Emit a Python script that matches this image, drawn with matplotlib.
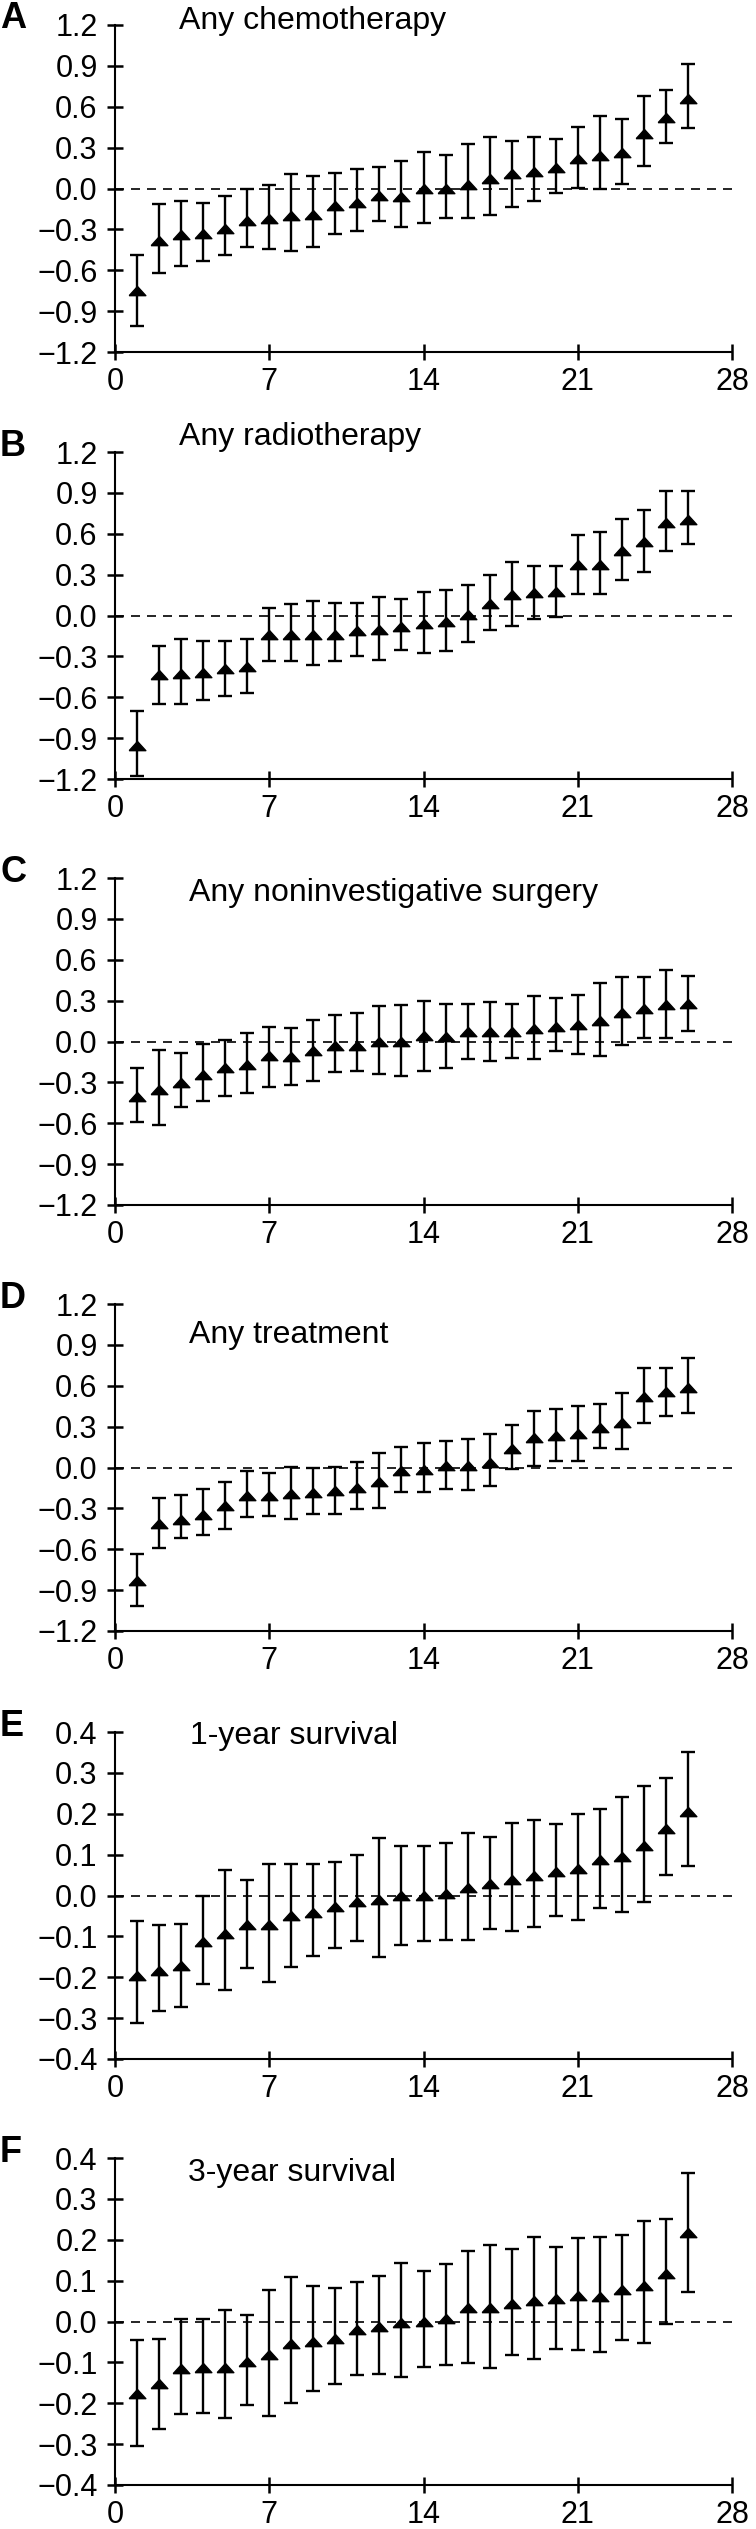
import numpy as np
import matplotlib
matplotlib.use("Agg")
import matplotlib.pyplot as plt
from matplotlib.ticker import FuncFormatter

plt.rcParams['font.family'] = ['Liberation Sans', 'DejaVu Sans']

# rank of each unit (x axis)
rank = np.arange(1, 27)

# A - any chemotherapy
chemo_est = [-0.754, -0.385, -0.343, -0.331, -0.294, -0.238, -0.225, -0.201, -0.196, -0.127,
             -0.110, -0.056, -0.061, -0.002, 0.000, 0.029, 0.069, 0.103, 0.122, 0.152,
             0.213, 0.240, 0.257, 0.399, 0.519, 0.656]
chemo_hi = [-0.485, -0.115, -0.093, -0.105, -0.056, -0.005, 0.029, 0.103, 0.093, 0.113,
            0.140, 0.157, 0.203, 0.267, 0.245, 0.323, 0.377, 0.350, 0.377, 0.365,
            0.453, 0.531, 0.509, 0.678, 0.725, 0.914]
chemo_lo = [-1.009, -0.617, -0.568, -0.534, -0.485, -0.431, -0.443, -0.460, -0.431, -0.331,
            -0.311, -0.238, -0.279, -0.252, -0.213, -0.213, -0.196, -0.135, -0.093, -0.032,
            0.002, -0.005, 0.034, 0.167, 0.336, 0.441]

# B - any radiotherapy
radio_est = [-0.960, -0.439, -0.427, -0.420, -0.390, -0.378, -0.142, -0.145, -0.145, -0.145,
             -0.115, -0.103, -0.083, -0.064, -0.049, 0.002, 0.081, 0.150, 0.162, 0.169,
             0.368, 0.368, 0.476, 0.542, 0.682, 0.699]
radio_hi = [-0.704, -0.223, -0.174, -0.184, -0.184, -0.169, 0.052, 0.086, 0.106, 0.093,
            0.093, 0.137, 0.118, 0.172, 0.187, 0.226, 0.294, 0.393, 0.366, 0.366,
            0.591, 0.616, 0.707, 0.773, 0.915, 0.915]
radio_lo = [-1.180, -0.653, -0.653, -0.623, -0.589, -0.572, -0.336, -0.336, -0.366, -0.336,
            -0.299, -0.326, -0.255, -0.272, -0.260, -0.191, -0.103, -0.076, -0.027, -0.012,
            0.160, 0.160, 0.260, 0.317, 0.476, 0.525]

# C - any noninvestigative surgery
surg_est = [-0.404, -0.355, -0.301, -0.245, -0.196, -0.171, -0.110, -0.115, -0.073, -0.032,
            -0.032, 0.000, -0.002, 0.037, 0.032, 0.073, 0.071, 0.069, 0.091, 0.105,
            0.122, 0.147, 0.208, 0.238, 0.265, 0.272]
surg_hi = [-0.196, -0.061, -0.086, -0.022, 0.012, 0.064, 0.103, 0.100, 0.159, 0.198,
           0.208, 0.257, 0.265, 0.299, 0.272, 0.274, 0.289, 0.277, 0.331, 0.316,
           0.340, 0.429, 0.475, 0.475, 0.527, 0.482]
surg_lo = [-0.588, -0.615, -0.482, -0.436, -0.397, -0.380, -0.333, -0.318, -0.287, -0.225,
           -0.218, -0.235, -0.250, -0.220, -0.198, -0.130, -0.142, -0.120, -0.130, -0.073,
           -0.091, -0.108, -0.029, 0.027, 0.027, 0.078]

# D - any treatment
treat_est = [-0.833, -0.418, -0.386, -0.345, -0.283, -0.210, -0.210, -0.198, -0.186, -0.171,
             -0.149, -0.108, -0.027, -0.015, 0.010, 0.010, 0.034, 0.137, 0.213, 0.230,
             0.249, 0.291, 0.327, 0.516, 0.555, 0.584]
treat_hi = [-0.638, -0.222, -0.200, -0.156, -0.105, -0.029, -0.037, 0.007, -0.002, 0.007,
            0.042, 0.105, 0.154, 0.183, 0.193, 0.210, 0.247, 0.313, 0.413, 0.433,
            0.455, 0.469, 0.547, 0.731, 0.731, 0.804]
treat_lo = [-1.019, -0.589, -0.518, -0.499, -0.455, -0.364, -0.354, -0.376, -0.340, -0.340,
            -0.308, -0.298, -0.183, -0.183, -0.156, -0.166, -0.134, -0.010, 0.010, 0.049,
            0.049, 0.142, 0.139, 0.323, 0.376, 0.401]

# E - 1-year survival
surv1_est = [-0.196, -0.184, -0.173, -0.113, -0.094, -0.073, -0.073, -0.051, -0.042, -0.027,
             -0.015, -0.010, -0.002, 0.000, 0.004, 0.019, 0.029, 0.038, 0.047, 0.057,
             0.065, 0.087, 0.094, 0.121, 0.163, 0.204]
surv1_hi = [-0.063, -0.073, -0.069, -0.002, 0.063, 0.037, 0.078, 0.076, 0.076, 0.083,
            0.100, 0.140, 0.122, 0.122, 0.128, 0.154, 0.144, 0.178, 0.185, 0.174,
            0.200, 0.211, 0.241, 0.267, 0.288, 0.350]
surv1_lo = [-0.313, -0.283, -0.272, -0.216, -0.230, -0.177, -0.212, -0.174, -0.148, -0.129,
            -0.112, -0.151, -0.122, -0.112, -0.108, -0.108, -0.082, -0.086, -0.078, -0.051,
            -0.060, -0.030, -0.041, -0.015, 0.049, 0.072]

# F - 3-year survival
surv3_est = [-0.178, -0.154, -0.117, -0.113, -0.113, -0.099, -0.082, -0.056, -0.050, -0.042,
             -0.020, -0.014, -0.003, -0.001, 0.007, 0.033, 0.033, 0.042, 0.051, 0.054,
             0.062, 0.059, 0.078, 0.088, 0.117, 0.217]
surv3_hi = [-0.046, -0.042, 0.007, 0.007, 0.029, 0.017, 0.077, 0.109, 0.086, 0.081,
            0.097, 0.112, 0.142, 0.123, 0.141, 0.172, 0.188, 0.178, 0.206, 0.182,
            0.204, 0.207, 0.211, 0.247, 0.251, 0.363]
surv3_lo = [-0.305, -0.264, -0.227, -0.223, -0.235, -0.205, -0.231, -0.200, -0.170, -0.152,
            -0.131, -0.128, -0.136, -0.111, -0.107, -0.101, -0.113, -0.081, -0.091, -0.067,
            -0.070, -0.074, -0.045, -0.052, -0.005, 0.072]

letters = ['A', 'B', 'C', 'D', 'E', 'F']
titles = ['Any chemotherapy', 'Any radiotherapy', 'Any noninvestigative surgery',
          'Any treatment', '1-year survival', '3-year survival']
x_ticks = [0, 7, 14, 21, 28]
treat_ticks = [-1.2, -0.9, -0.6, -0.3, 0.0, 0.3, 0.6, 0.9, 1.2]
surv_ticks = [-0.4, -0.3, -0.2, -0.1, 0.0, 0.1, 0.2, 0.3, 0.4]

panels = [
    (chemo_est, chemo_lo, chemo_hi, treat_ticks, (2.9, 1.23)),
    (radio_est, radio_lo, radio_hi, treat_ticks, (2.9, 1.31)),
    (surg_est, surg_lo, surg_hi, treat_ticks, (3.35, 1.09)),
    (treat_est, treat_lo, treat_hi, treat_ticks, (3.35, 0.97)),
    (surv1_est, surv1_lo, surv1_hi, surv_ticks, (3.4, 0.39)),
    (surv3_est, surv3_lo, surv3_hi, surv_ticks, (3.3, 0.363)),
]

W, H = 756, 2529
fig = plt.figure(figsize=(W / 100, H / 100), dpi=100)

# axes top in pixels, fixed height
tops = [25, 452, 878, 1304, 1732, 2158]
ax_h = 327
left, right = 115, 732


def ylab(v, p):
    if abs(v) < 1e-9:
        return '0.0'
    return ('%.1f' % v).replace('-', '\u2212')


# flat triangle like the original markers
tri = [(-1, -0.5), (1, -0.5), (0, 0.6), (-1, -0.5)]

for i, (est, lo, hi, yt, tpos) in enumerate(panels):
    top = tops[i]
    ax = fig.add_axes([left / W, 1 - (top + ax_h) / H, (right - left) / W, ax_h / H])
    est = np.array(est)
    err = [est - np.array(lo), np.array(hi) - est]
    ax.axhline(0, color='black', lw=1.2, ls=(0, (5.4, 4.2)), zorder=1)
    ax.errorbar(rank, est, yerr=err, fmt='none', ecolor='black',
                elinewidth=1.7, capsize=5, capthick=1.7, clip_on=False, zorder=3)
    ax.plot(rank, est, ls='none', marker=tri, ms=12, color='black', clip_on=False, zorder=4)
    ax.set_xlim(0, 28)
    ax.set_ylim(yt[0], yt[-1])
    ax.set_xticks(x_ticks)
    ax.set_yticks(yt)
    ax.yaxis.set_major_formatter(FuncFormatter(ylab))
    for s in ['top', 'right']:
        ax.spines[s].set_visible(False)
    for s in ['left', 'bottom']:
        ax.spines[s].set_linewidth(1.5)
    ax.tick_params(axis='both', direction='inout', length=11, width=1.8, labelsize=22)
    ax.tick_params(axis='y', pad=7)
    ax.tick_params(axis='x', pad=5)
    ax.text(tpos[0], tpos[1], titles[i], fontsize=23, va='center', ha='left', clip_on=False)
    fig.text(0.0, 1 - (top - 6) / H, letters[i], fontsize=26, fontweight='bold',
             ha='left', va='center')

fig.savefig('out.png', dpi=100)
